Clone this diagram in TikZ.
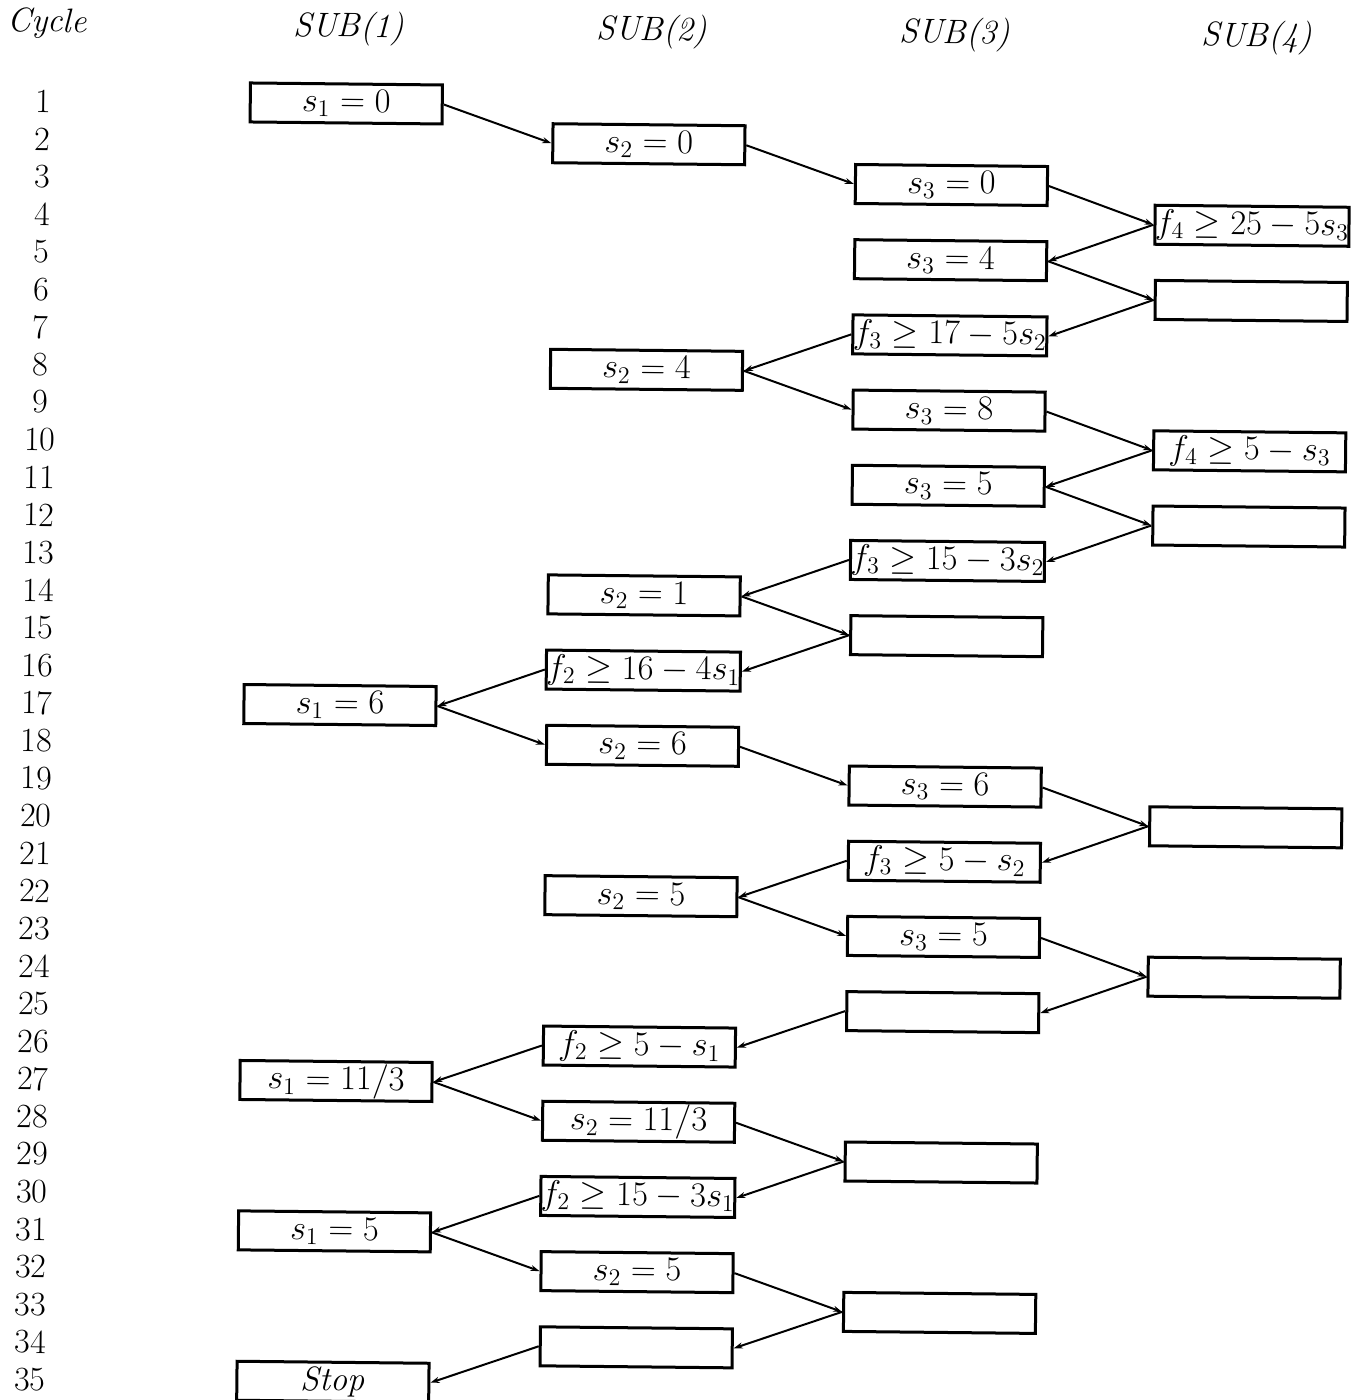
\documentclass[tikz,border=0pt]{standalone}
\usetikzlibrary{arrows.meta}
\tikzset{
  boxst/.style={draw, line width=1.5pt, minimum width=96pt, minimum height=19.5pt, inner sep=0pt,
    font=\fontsize{16.5}{19}\selectfont},
  arr/.style={line width=1pt, -{Stealth[length=4.5pt,width=3pt]}},
  numst/.style={font=\fontsize{17}{20}\selectfont, inner sep=0pt},
  headst/.style={font=\fontsize{17}{20}\selectfont\itshape, inner sep=0pt},
}
\newcommand\mkbox[4]{\node[boxst] (#1) at ({#2},{107+(#3-1)*37.6}) {#4};}
\begin{document}
\begin{tikzpicture}[x=0.5pt,y=-0.5pt]
\useasboundingbox (0,0) rectangle (1365,1400);
\begin{scope}[rotate around={-0.6:(682,700)}, transform shape]
% headers
\node[headst] (hc) at (40,30) {Cycle};
\node[headst] (h1) at (342,32) {SUB(1)};
\node[headst] (h2) at (645,32) {SUB(2)};
\node[headst] (h3) at (948,32) {SUB(3)};
\node[headst] (h4) at (1250,32) {SUB(4)};
% cycle numbers
\foreach \n in {1,...,35} {
  \node[numst] (n\n) at (37,{108+(\n-1)*37.6}) {\n};
}
% boxes
\mkbox{a1}{340}{1}{$s_1=0$}
\mkbox{b2}{643}{2}{$s_2=0$}
\mkbox{c3}{946}{3}{$s_3=0$}
\mkbox{d4}{1247}{4}{$f_4\geq 25-5s_3$}
\mkbox{c5}{946}{5}{$s_3=4$}
\mkbox{d6}{1247}{6}{}
\mkbox{c7}{946}{7}{$f_3\geq 17-5s_2$}
\mkbox{b8}{643}{8}{$s_2=4$}
\mkbox{c9}{946}{9}{$s_3=8$}
\mkbox{d10}{1247}{10}{$f_4\geq 5-s_3$}
\mkbox{c11}{946}{11}{$s_3=5$}
\mkbox{d12}{1247}{12}{}
\mkbox{c13}{946}{13}{$f_3\geq 15-3s_2$}
\mkbox{b14}{643}{14}{$s_2=1$}
\mkbox{c15}{946}{15}{}
\mkbox{b16}{643}{16}{$f_2\geq 16-4s_1$}
\mkbox{a17}{340}{17}{$s_1=6$}
\mkbox{b18}{643}{18}{$s_2=6$}
\mkbox{c19}{946}{19}{$s_3=6$}
\mkbox{d20}{1247}{20}{}
\mkbox{c21}{946}{21}{$f_3\geq 5-s_2$}
\mkbox{b22}{643}{22}{$s_2=5$}
\mkbox{c23}{946}{23}{$s_3=5$}
\mkbox{d24}{1247}{24}{}
\mkbox{c25}{946}{25}{}
\mkbox{b26}{643}{26}{$f_2\geq 5-s_1$}
\mkbox{a27}{340}{27}{$s_1=11/3$}
\mkbox{b28}{643}{28}{$s_2=11/3$}
\mkbox{c29}{946}{29}{}
\mkbox{b30}{643}{30}{$f_2\geq 15-3s_1$}
\mkbox{a31}{340}{31}{$s_1=5$}
\mkbox{b32}{643}{32}{$s_2=5$}
\mkbox{c33}{946}{33}{}
\mkbox{b34}{643}{34}{}
\node[boxst, font=\fontsize{17}{20}\selectfont\itshape] (a35) at (340,{107+34*37.6}) {Stop};
% forward arrows
\foreach \s/\t in {a1/b2, b2/c3, c3/d4, c5/d6, b8/c9, c9/d10, c11/d12, b14/c15,
                   a17/b18, b18/c19, c19/d20, b22/c23, c23/d24, a27/b28, b28/c29,
                   a31/b32, b32/c33}
  \draw[arr] (\s.east) -- (\t.west);
% backward arrows
\foreach \s/\t in {d4/c5, d6/c7, c7/b8, d10/c11, d12/c13, c13/b14, c15/b16, b16/a17,
                   d20/c21, c21/b22, d24/c25, c25/b26, b26/a27, c29/b30, b30/a31,
                   c33/b34, b34/a35}
  \draw[arr] (\s.west) -- (\t.east);
\end{scope}
\end{tikzpicture}
\end{document}
